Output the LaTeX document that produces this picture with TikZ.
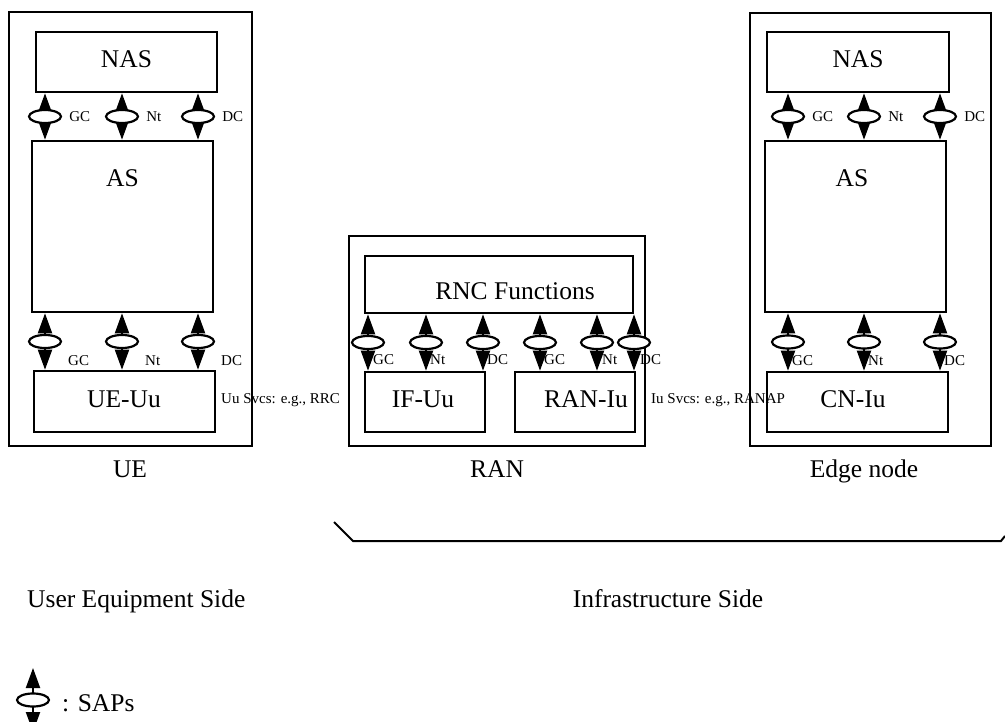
\documentclass[tikz,border=0pt]{standalone}
\usepackage{fontspec}
\setmainfont{Liberation Serif}
\usetikzlibrary{arrows.meta,positioning,shapes.geometric}

\tikzset{
  outerbox/.style={draw,line width=1.4pt,inner sep=0pt},
  innerbox/.style={draw,line width=2.6pt,inner sep=0pt},
  big/.style={font=\fontsize{25.5}{30}\selectfont,inner sep=0pt,anchor=base},
  small/.style={font=\fontsize{15}{18}\selectfont,inner sep=0pt},
  sapline/.style={line width=2pt,{Triangle[length=20pt,width=14pt]}-{Triangle[length=20pt,width=14pt]}},
  sapring/.style={ellipse,draw,fill=white,line width=2.2pt,minimum width=32pt,minimum height=13pt,inner sep=0pt}
}
% one SAP between two boxes: x, upper box, lower box, ring name
\newcommand{\sapat}[4]{\draw[sapline] (#2.south -| #1,0) -- (#3.north -| #1,0) node[sapring,midway] (#4) {};}

\begin{document}
\begin{tikzpicture}[x=1pt,y=-1pt]
\useasboundingbox (0,0) rectangle (1005,722);

% UE
\node[outerbox,minimum width=243,minimum height=434] at (130.5,229) (ue) {};
\node[innerbox,minimum width=181,minimum height=60] at (126.5,62) (nasU) {};
\node[innerbox,minimum width=181,minimum height=171] at (122.5,226.5) (asU) {};
\node[innerbox,minimum width=181,minimum height=61] at (124.5,401.5) (uuU) {};
\node[big] at (126.5,68) {NAS};
\node[big] at (122.5,187) {AS};
\node[big] at (124,407) {UE-Uu};
\node[big] at (130,477) {UE};

\sapat{45}{nasU}{asU}{gcU1}
\sapat{122}{nasU}{asU}{ntU1}
\sapat{198}{nasU}{asU}{dcU1}
\node[small,right=7pt of gcU1] {GC};
\node[small,right=7pt of ntU1] {Nt};
\node[small,right=7pt of dcU1] {DC};
\sapat{45}{asU}{uuU}{gcU2}
\sapat{122}{asU}{uuU}{ntU2}
\sapat{198}{asU}{uuU}{dcU2}
\node[small,anchor=base west] at (68,366) {GC};
\node[small,anchor=base west] at (145,366) {Nt};
\node[small,anchor=base west] at (221,366) {DC};

% RAN
\node[outerbox,minimum width=296,minimum height=210] at (497,341) (ran) {};
\node[innerbox,minimum width=268,minimum height=57] at (499,284.5) (rnc) {};
\node[innerbox,minimum width=120,minimum height=60] at (425,402) (ifuu) {};
\node[innerbox,minimum width=120,minimum height=60] at (575,402) (raniu) {};
\node[big] at (515,300) {RNC Functions};
\node[big] at (423,407) {IF-Uu};
\node[big] at (586,407) {RAN-Iu};
\node[big] at (497,477) {RAN};

\sapat{368}{rnc}{ifuu}{gcR1}
\sapat{426}{rnc}{ifuu}{ntR1}
\sapat{483}{rnc}{ifuu}{dcR1}
\sapat{540}{rnc}{raniu}{gcR2}
\sapat{597}{rnc}{raniu}{ntR2}
\sapat{634}{rnc}{raniu}{dcR2}
\node[small,anchor=base west] at (373,365) {GC};
\node[small,anchor=base west] at (430,365) {Nt};
\node[small,anchor=base west] at (487,365) {DC};
\node[small,anchor=base west] at (544,365) {GC};
\node[small,anchor=base west] at (602,365) {Nt};
\node[small,anchor=base west] at (640,365) {DC};

% Edge node
\node[outerbox,minimum width=241,minimum height=433] at (870.5,229.5) (edge) {};
\node[innerbox,minimum width=182,minimum height=60] at (858,62) (nasE) {};
\node[innerbox,minimum width=181,minimum height=171] at (855.5,226.5) (asE) {};
\node[innerbox,minimum width=181,minimum height=60] at (857.5,402) (cnE) {};
\node[big] at (858,68) {NAS};
\node[big] at (852,187) {AS};
\node[big] at (853,407) {CN-Iu};
\node[big] at (864,477) {Edge node};

\sapat{788}{nasE}{asE}{gcE1}
\sapat{864}{nasE}{asE}{ntE1}
\sapat{940}{nasE}{asE}{dcE1}
\node[small,right=7pt of gcE1] {GC};
\node[small,right=7pt of ntE1] {Nt};
\node[small,right=7pt of dcE1] {DC};
\sapat{788}{asE}{cnE}{gcE2}
\sapat{864}{asE}{cnE}{ntE2}
\sapat{940}{asE}{cnE}{dcE2}
\node[small,anchor=base west] at (792,366) {GC};
\node[small,anchor=base west] at (868,366) {Nt};
\node[small,anchor=base west] at (944,366) {DC};

\node[small,anchor=base west] at (221,403) {Uu Svcs: e.g., RRC};
\node[small,anchor=base west] at (651,403) {Iu Svcs: e.g., RANAP};

% sides
\coordinate (brA) at (334,522);
\coordinate (brB) at (353,541);
\coordinate (brC) at (1001,541);
\coordinate (brD) at (1005,536);
\draw[line width=2pt] (brA) -- (brB) -- (brC) -- (brD);
\node[big,anchor=base west] at (27,607) {User Equipment Side};
\node[big] at (668,607) {Infrastructure Side};

% legend
\coordinate (legTop) at (33,668);
\coordinate (legBot) at (33,732);
\draw[sapline] (legTop) -- (legBot) node[sapring,midway] (legSap) {};
\node[big,anchor=base west] at (62,711) {: SAPs};
\end{tikzpicture}
\end{document}
